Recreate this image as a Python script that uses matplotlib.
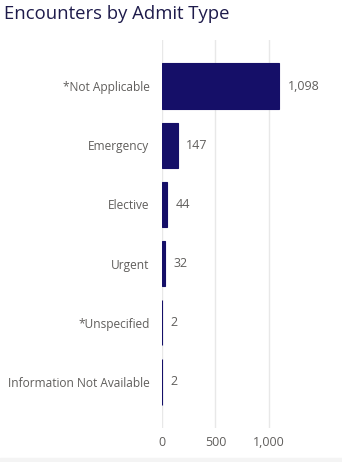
import matplotlib.pyplot as plt
from matplotlib.ticker import FuncFormatter

categories = ['*Not Applicable', 'Emergency', 'Elective', 'Urgent',
              '*Unspecified', 'Information Not Available']
encounters = [1098, 147, 44, 32, 2, 2]
x_ticks = [0, 500, 1000]

plt.rcParams['font.family'] = ['Open Sans', 'DejaVu Sans']

fig = plt.figure(figsize=(3.42, 4.62), dpi=100)
ax = fig.add_axes([162 / 342, 1 - 428 / 462, 171 / 342, 388 / 462])

bar_color = '#150f68'
grey = '#605e5c'

ypos = range(len(categories))
ax.barh(ypos, encounters, height=0.77, color=bar_color, edgecolor=bar_color,
        linewidth=0.8, zorder=3)
for y, v in zip(ypos, encounters):
    ax.text(v + 80, y, f'{v:,}', va='center', ha='left', fontsize=9, color=grey)

ax.set_yticks(list(ypos))
ax.set_yticklabels(categories, fontsize=8.6, color=grey)
ax.set_ylim(5.78, -0.78)
ax.set_xlim(0, 1600)
ax.set_xticks(x_ticks)
ax.xaxis.set_major_formatter(FuncFormatter(lambda v, p: f'{int(v):,}'))
ax.tick_params(axis='x', labelsize=9, labelcolor=grey, length=0, pad=6)
ax.tick_params(axis='y', length=0, pad=9)
ax.grid(axis='x', color='#e8e8e8', linewidth=1, zorder=0)
for s in ax.spines.values():
    s.set_visible(False)

fig.text(4 / 342, 1 - 14 / 462, 'Encounters by Admit Type', fontsize=13.3,
         color='#1e1b4b', va='center', ha='left')
fig.add_artist(plt.Rectangle((0, 0), 1, 4 / 462, transform=fig.transFigure,
                             color='#f4f4f4', zorder=0))

fig.savefig('out.png', dpi=100)
